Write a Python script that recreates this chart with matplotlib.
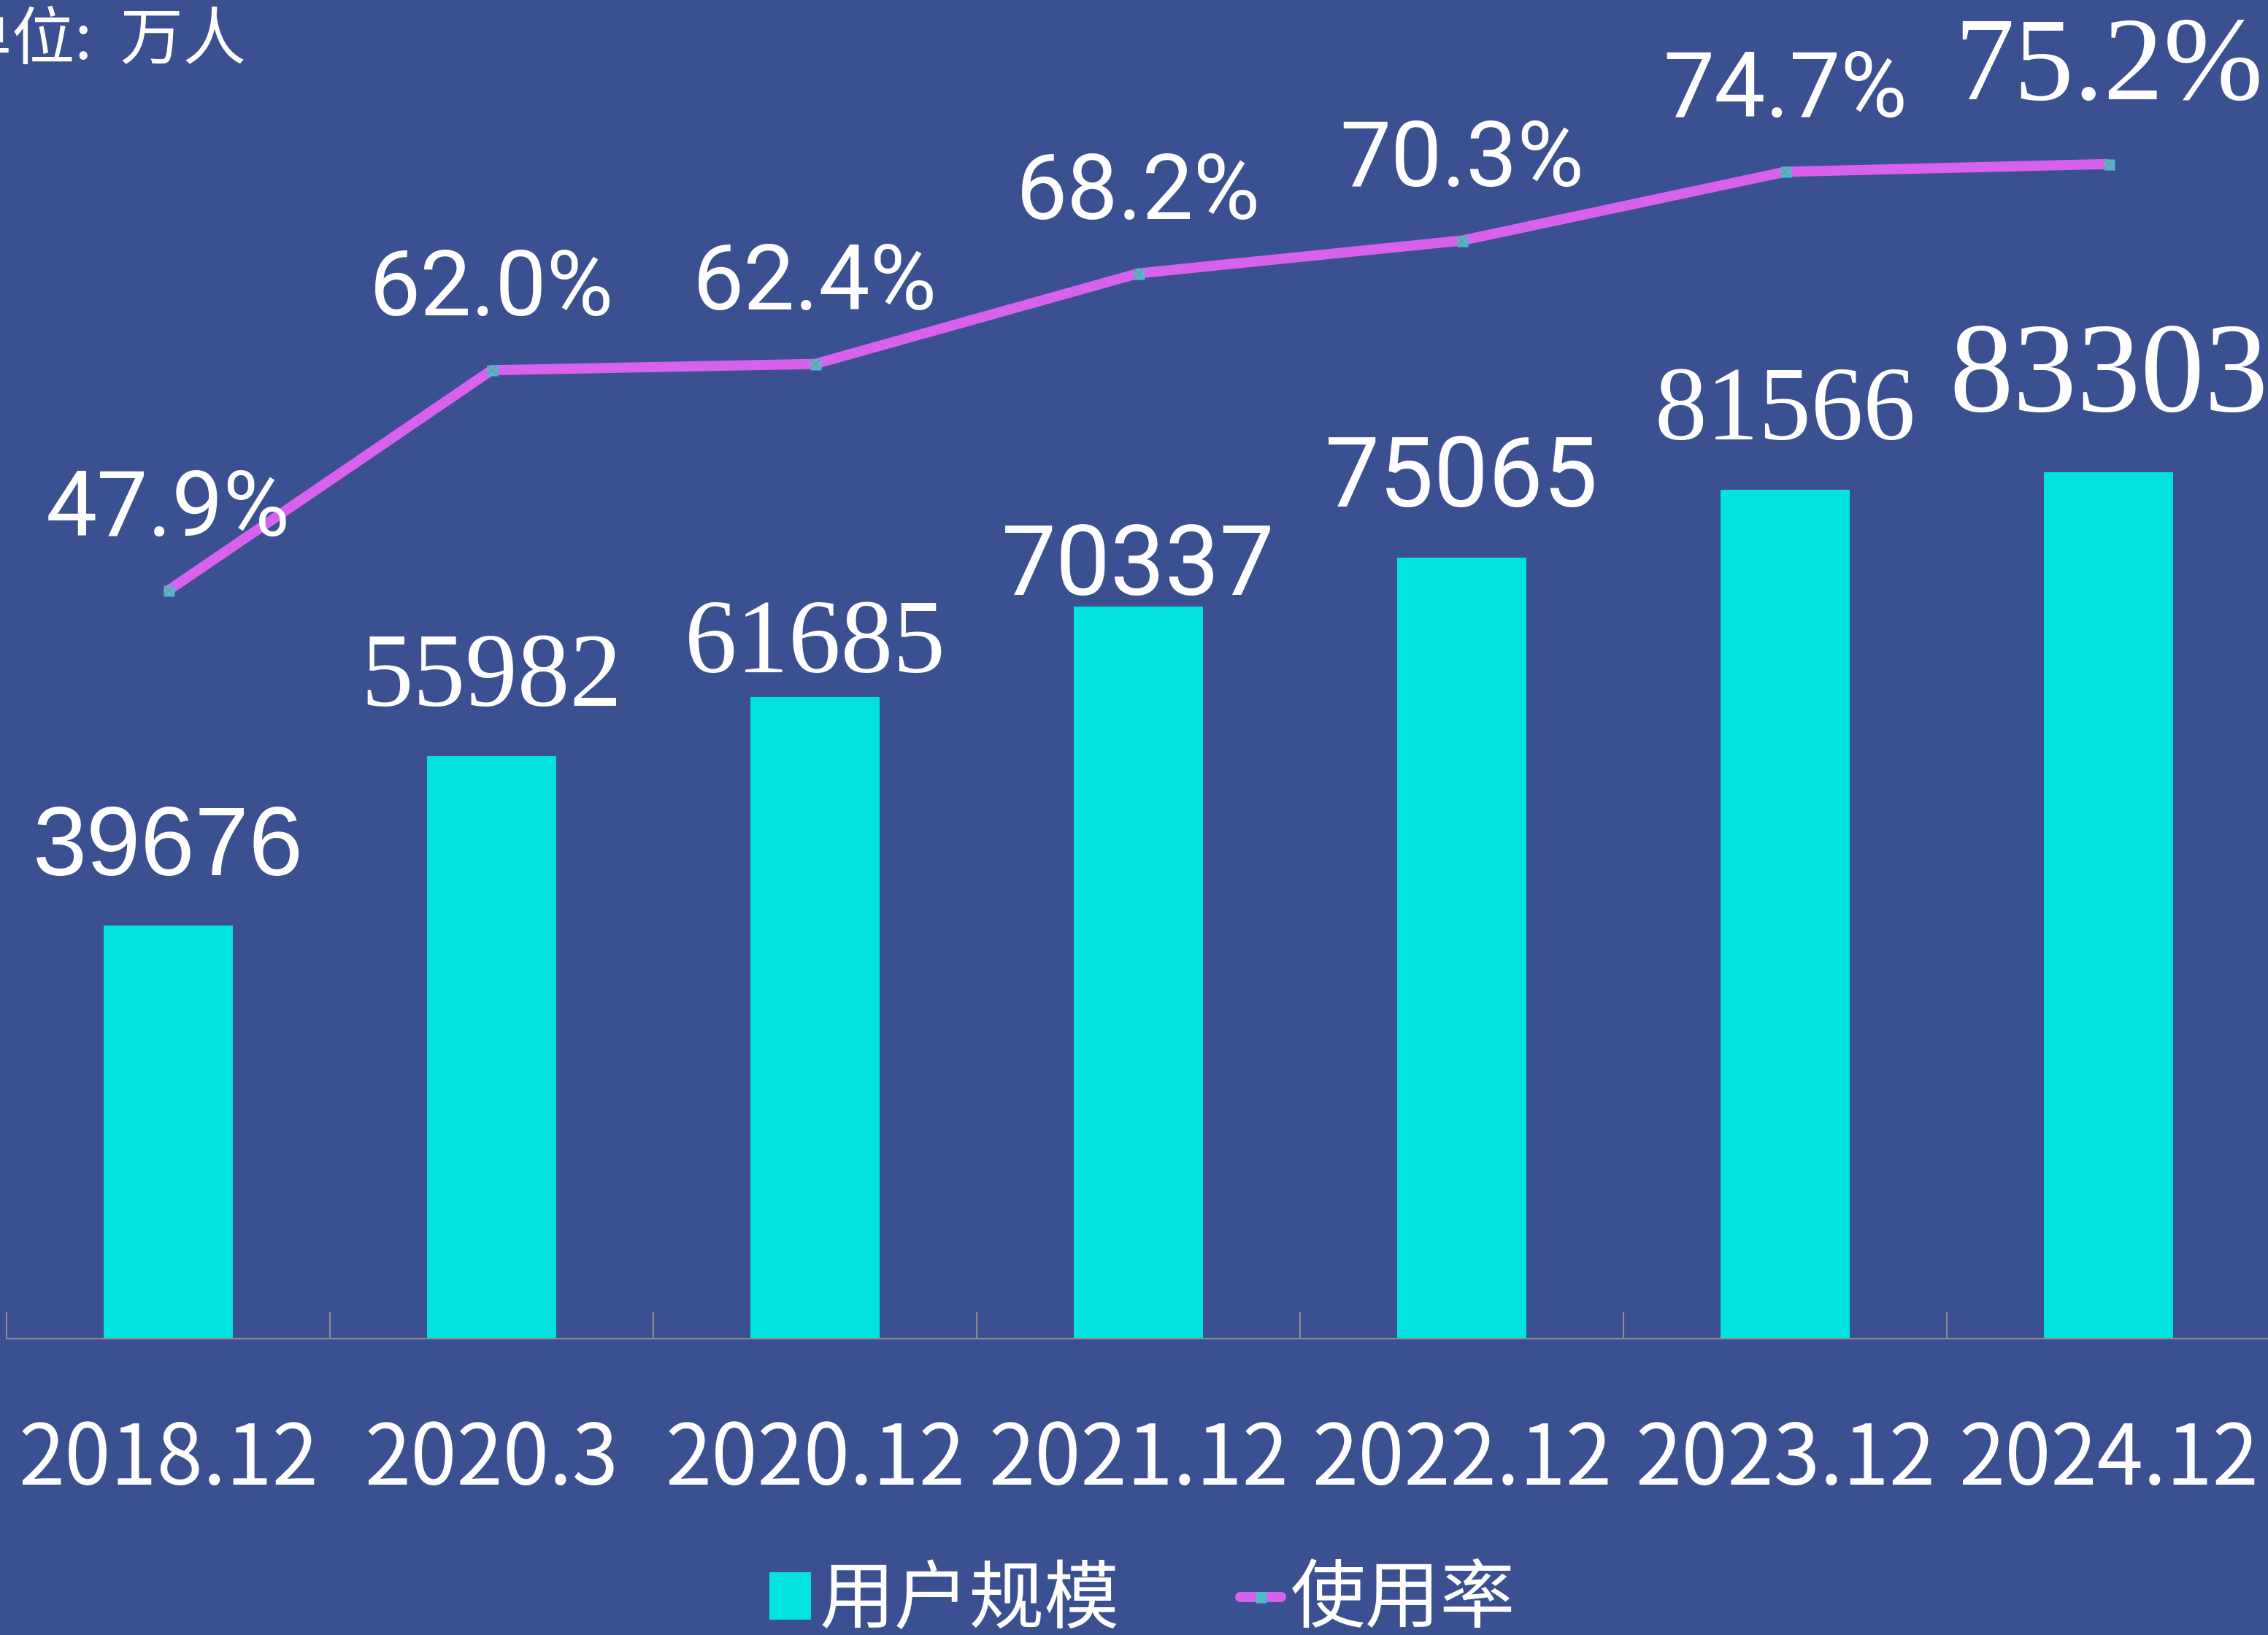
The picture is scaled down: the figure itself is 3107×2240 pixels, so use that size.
import matplotlib.pyplot as plt
import numpy as np
from matplotlib.lines import Line2D
from matplotlib.patches import Patch

categories = ['2018.12', '2020.3', '2020.12', '2021.12', '2022.12', '2023.12', '2024.12']
users = [39676, 55982, 61685, 70337, 75065, 81566, 83303]
rate = [47.9, 62.0, 62.4, 68.2, 70.3, 74.7, 75.2]

bg = '#3B5090'
cyan = '#02E3DD'
purple = '#D862EE'
cjk = 'Noto Sans CJK SC'

W, H = 3107, 2240
fig = plt.figure(figsize=(W / 100, H / 100), dpi=100, facecolor=bg)
ax = fig.add_axes([9 / W, (H - 1834) / H, 1 - 9 / W, 1834 / H])
ax.set_facecolor(bg)

x = np.arange(len(categories))
ax.bar(x, users, width=0.4, color=cyan, zorder=2)
ax.set_xlim(-0.5, 6.493)
ax.set_ylim(0, 128656)

for s in ['top', 'left', 'right']:
    ax.spines[s].set_visible(False)
ax.spines['bottom'].set_color('#8C8C8C')
ax.spines['bottom'].set_linewidth(1.5)
ax.set_yticks([])
ax.set_xticks(x)
ax.set_xticklabels(categories, fontfamily=cjk, fontsize=82, color='white')
ax.set_xticks(np.arange(-0.5, 6.5, 1), minor=True)
ax.tick_params(axis='x', which='major', length=0, pad=78)
ax.tick_params(axis='x', which='minor', direction='in', length=27, width=1.5, color='#8C8C8C')

# value labels above bars (the source mixes fonts)
bar_fonts = ['Liberation Sans', 'Liberation Serif', 'Liberation Serif', 'Roboto', 'Roboto',
             'Liberation Serif', 'Liberation Serif']
bar_sizes = [96, 103, 103, 96, 96, 103, 126]
bar_offs = [50, 50, 24, 12, 50, 50, 60]
for i, v in enumerate(users):
    ax.annotate(str(v), (x[i], v), xytext=(0, bar_offs[i]), textcoords='offset points',
                ha='center', va='baseline', color='white',
                fontfamily=bar_fonts[i], fontsize=bar_sizes[i], zorder=5)

ax2 = ax.twinx()
ax2.set_ylim(0, 85.7)
ax2.set_yticks([])
for s in ax2.spines.values():
    s.set_visible(False)
ax2.plot(x, rate, color=purple, lw=10, solid_capstyle='butt', zorder=3)
ax2.plot(x, rate, ls='none', marker='s', ms=10.8, mfc='#45BEC8', mec='none', zorder=4)
ax2.plot(x, rate, ls='none', marker='x', ms=9, mec='#8C8CB4', mew=1.5, zorder=4)

pct_fonts = ['Roboto'] * 6 + ['Liberation Serif']
pct_sizes = [90] * 6 + [118]
pct_offs = [54] * 6 + [64]
for i, r in enumerate(rate):
    ax2.annotate(f'{r:.1f}%', (x[i], r), xytext=(0, pct_offs[i]), textcoords='offset points',
                 ha='center', va='baseline', color='white', fontfamily=pct_fonts[i],
                 fontsize=pct_sizes[i], zorder=5)

fig.text(-70 / W, 1 - 12 / H, '单位:  万人', ha='left', va='top', fontsize=62,
         fontfamily=cjk, color='white')

handles = [Patch(facecolor=cyan, edgecolor='none'),
           Line2D([], [], color=purple, lw=10, solid_capstyle='round', marker='s',
                  ms=10.8, mfc='#45BEC8', mec='none')]
fig.legend(handles, ['用户规模', '使用率'], loc='center', bbox_to_anchor=(0.5037, 0.021),
           ncol=2, frameon=False, prop={'family': cjk, 'size': 74}, labelcolor='white',
           handlelength=0.55, handleheight=0.6, handletextpad=0.12, columnspacing=1.6)

fig.savefig('out.png', dpi=100, facecolor=bg)
